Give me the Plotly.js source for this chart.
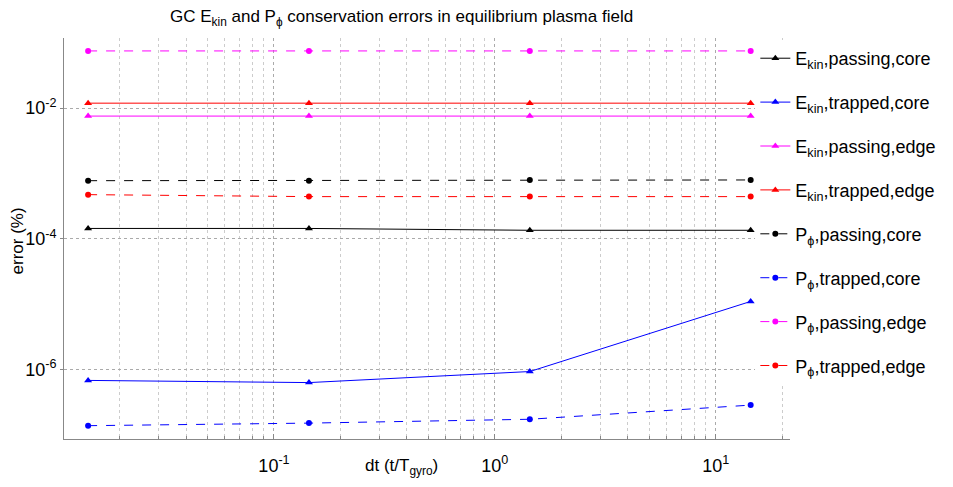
<!DOCTYPE html>
<html><head><meta charset="utf-8">
<script src="https://cdn.plot.ly/plotly-3.0.1.min.js"></script>
<style>html,body{margin:0;padding:0;background:#fff}#chart{width:953px;height:487px}</style>
</head><body><div id="chart"></div>
<script>
const dt = [0.0144, 0.144, 1.44, 14.4];
const ekinPassingCore = [1.44e-4, 1.44e-4, 1.35e-4, 1.35e-4];
const ekinTrappedCore = [6.8e-7, 6.3e-7, 9.3e-7, 1.1e-5];
const ekinPassingEdge = [7.55e-3, 7.55e-3, 7.55e-3, 7.55e-3];
const ekinTrappedEdge = [1.19e-2, 1.19e-2, 1.19e-2, 1.19e-2];
const pphiPassingCore = [7.75e-4, 7.75e-4, 7.95e-4, 7.95e-4];
const pphiTrappedCore = [1.38e-7, 1.51e-7, 1.73e-7, 2.85e-7];
const pphiPassingEdge = [0.075, 0.075, 0.075, 0.075];
const pphiTrappedEdge = [4.74e-4, 4.42e-4, 4.42e-4, 4.42e-4];

const seriesNames = [
  'E<sub>kin</sub>,passing,core', 'E<sub>kin</sub>,trapped,core',
  'E<sub>kin</sub>,passing,edge', 'E<sub>kin</sub>,trapped,edge',
  'P<sub>ϕ</sub>,passing,core', 'P<sub>ϕ</sub>,trapped,core',
  'P<sub>ϕ</sub>,passing,edge', 'P<sub>ϕ</sub>,trapped,edge'
];
const seriesValues = [ekinPassingCore, ekinTrappedCore, ekinPassingEdge, ekinTrappedEdge,
  pphiPassingCore, pphiTrappedCore, pphiPassingEdge, pphiTrappedEdge];
const colors = ['#000000', '#0000ff', '#ff00ff', '#ff0000'];

const xTickVals = [0.1, 1, 10];
const xTickExp = ['-1', '0', '1'];
const yTickVals = [1e-6, 1e-4, 1e-2];
const yTickExp = ['-6', '-4', '-2'];
const pow10 = e => '10<sup>' + e + '</sup>';

const minorX = [];
for (let e = -2; e <= 1; e++) for (let m = 2; m <= 9; m++) minorX.push(m * Math.pow(10, e));

const traces = seriesValues.map((v, i) => ({
  x: dt, y: v, type: 'scatter', mode: 'lines+markers', name: seriesNames[i],
  legendgroup: 'g' + i,
  line: {color: colors[i % 4], width: 1, dash: i < 4 ? 'solid' : 'dash'},
  marker: {color: colors[i % 4], size: i < 4 ? 7 : 6, symbol: i < 4 ? 'triangle-up' : 'circle'}
}));

const W = 953, H = 487, L = 64, R = 156, T = 38, B = 48;
const pw = W - L - R;
const px = x => (x - L) / pw;

const layout = {
  width: W, height: H,
  margin: {l: L, r: R, t: T, b: B},
  paper_bgcolor: '#fff', plot_bgcolor: '#fff',
  font: {family: 'Liberation Sans, Arial, sans-serif', color: '#000'},
  showlegend: true,
  legend: {x: px(762), xanchor: 'left', y: 0.995, yanchor: 'top', bgcolor: 'rgba(255,255,255,1)',
    font: {size: 18, color: '#000'}, traceorder: 'grouped', tracegroupgap: 17.5},
  xaxis: {type: 'log', range: [Math.log10(0.0112), Math.log10(21.7)],
    tickvals: xTickVals, ticktext: xTickExp.map(pow10), tickfont: {size: 18}, ticklabelstandoff: 10,
    showgrid: true, gridcolor: '#aaaaaa', griddash: 'dot', gridwidth: 1,
    ticks: 'inside', ticklen: 5, tickcolor: '#888', showline: true, linecolor: '#888', mirror: false,
    zeroline: false,
    minor: {tickvals: minorX, showgrid: true, gridcolor: '#cccccc', griddash: 'dot', ticks: 'inside', ticklen: 3, tickcolor: '#888'}
  },
  yaxis: {type: 'log', range: [-7.064, -0.927],
    tickvals: yTickVals, ticktext: yTickExp.map(pow10), tickfont: {size: 18},
    showgrid: true, gridcolor: '#aaaaaa', griddash: 'dot', gridwidth: 1,
    ticks: 'outside', ticklen: 3, tickcolor: '#888', showline: true, linecolor: '#888', zeroline: false
  },
  annotations: [
    {text: 'GC E<sub>kin</sub> and P<sub>ϕ</sub> conservation errors in equilibrium plasma field',
     xref: 'paper', yref: 'paper', x: px(405), y: 1 + (T - 18) / (H - T - B), xanchor: 'center', yanchor: 'middle',
     showarrow: false, font: {size: 17}},
    {text: 'dt (t/T<sub>gyro</sub>)', xref: 'paper', yref: 'paper', x: px(405), y: -(467 - (H - B)) / (H - T - B),
     xanchor: 'center', yanchor: 'middle', showarrow: false, font: {size: 17}},
    {text: 'error (%)', xref: 'paper', yref: 'paper', x: px(17), y: 1 - (241 - T) / (H - T - B),
     xanchor: 'center', yanchor: 'middle', textangle: -90, showarrow: false, font: {size: 17}}
  ]
};

Plotly.newPlot('chart', traces, layout, {displayModeBar: false, staticPlot: true});
</script></body></html>
